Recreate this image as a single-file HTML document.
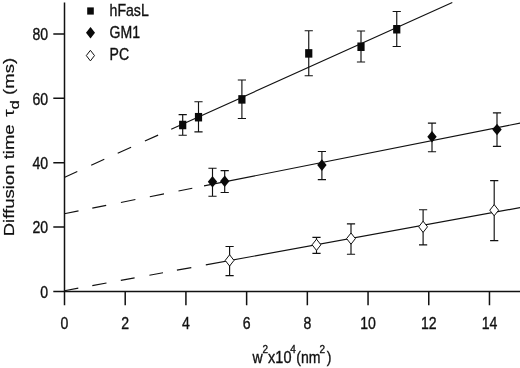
<!DOCTYPE html>
<html><head><meta charset="utf-8"><title>Diffusion time plot</title>
<style>
html,body{margin:0;padding:0;background:#fff}
svg{display:block}
text{font-family:"Liberation Sans",sans-serif;fill:#111;stroke:#111;stroke-width:0.35}
.ln{stroke:#111;stroke-width:1.15;fill:none}
.eb{stroke:#111;stroke-width:1.15;fill:none}
.ax{stroke:#111;stroke-width:1.5;fill:none}
.mk{fill:#0a0a0a;stroke:none}
.op{fill:#fff;stroke:#111;stroke-width:1}
</style></head><body>
<svg width="520" height="368" viewBox="0 0 520 368">
<rect width="520" height="368" fill="#fff"/>
<path class="ln" d="M64.2 177.40L77.3 171.50M91.2 165.24L104.3 159.34M117.7 153.30L131.1 147.27M144.9 141.05L158.1 135.11M171.2 129.21L452.3 2.60"/>
<path class="ln" d="M64.3 213.70L78.5 210.88M92.3 208.13L106.2 205.37M120.9 202.45L135.4 199.56M149.8 196.70L164.0 193.88M178.5 191.00L192.3 188.25M204.0 185.93L521.0 122.90"/>
<path class="ln" d="M64.5 290.70L78.3 288.18M92.3 285.63L106.5 283.04M120.8 280.43L134.6 277.91M149.4 275.21L163.0 272.73M176.9 270.19L191.3 267.57M205.8 264.92L521.0 207.42"/>
<path class="eb" d="M182.70 114.60V135.20M178.60 114.60H186.80M178.60 135.20H186.80M198.50 101.70V131.90M194.40 101.70H202.60M194.40 131.90H202.60M241.90 80.00V118.50M237.80 80.00H246.00M237.80 118.50H246.00M308.75 30.75V75.75M304.65 30.75H312.85M304.65 75.75H312.85M361.00 31.00V62.00M356.90 31.00H365.10M356.90 62.00H365.10M396.75 11.50V46.50M392.65 11.50H400.85M392.65 46.50H400.85M212.50 168.20V196.20M208.40 168.20H216.60M208.40 196.20H216.60M224.70 170.60V192.50M220.60 170.60H228.80M220.60 192.50H228.80M321.90 151.50V179.60M317.80 151.50H326.00M317.80 179.60H326.00M432.00 123.10V151.70M427.90 123.10H436.10M427.90 151.70H436.10M497.00 112.90V146.40M492.90 112.90H501.10M492.90 146.40H501.10M229.60 246.50V275.60M225.50 246.50H233.70M225.50 275.60H233.70M316.50 237.30V253.30M312.40 237.30H320.60M312.40 253.30H320.60M351.00 223.80V254.20M346.90 223.80H355.10M346.90 254.20H355.10M423.10 209.70V244.80M419.00 209.70H427.20M419.00 244.80H427.20M494.20 180.60V240.60M490.10 180.60H498.30M490.10 240.60H498.30"/>
<rect class="mk" x="179.10" y="120.75" width="7.2" height="8.5"/>
<rect class="mk" x="194.90" y="112.95" width="7.2" height="8.5"/>
<rect class="mk" x="238.30" y="95.15" width="7.2" height="8.5"/>
<rect class="mk" x="305.15" y="49.15" width="7.2" height="8.5"/>
<rect class="mk" x="357.40" y="42.50" width="7.2" height="8.5"/>
<rect class="mk" x="393.15" y="25.00" width="7.2" height="8.5"/>
<path class="mk" d="M212.50 176.00L217.20 181.80L212.50 187.60L207.80 181.80Z"/>
<path class="mk" d="M224.70 175.40L229.40 181.20L224.70 187.00L220.00 181.20Z"/>
<path class="mk" d="M321.90 159.30L326.60 165.10L321.90 170.90L317.20 165.10Z"/>
<path class="mk" d="M432.00 130.90L436.70 136.70L432.00 142.50L427.30 136.70Z"/>
<path class="mk" d="M497.00 123.70L501.70 129.50L497.00 135.30L492.30 129.50Z"/>
<path class="op" d="M229.60 254.80L234.00 260.40L229.60 266.00L225.20 260.40Z"/>
<path class="op" d="M316.50 239.20L320.90 244.80L316.50 250.40L312.10 244.80Z"/>
<path class="op" d="M351.00 233.00L355.40 238.60L351.00 244.20L346.60 238.60Z"/>
<path class="op" d="M423.10 221.20L427.50 226.80L423.10 232.40L418.70 226.80Z"/>
<path class="op" d="M494.20 204.60L498.60 210.20L494.20 215.80L489.80 210.20Z"/>
<path class="ax" d="M64.5 2.5V305.2M53.3 291.5H520M53.3 227.10H64.5M53.3 162.70H64.5M53.3 98.30H64.5M53.3 33.90H64.5M125.21 291.5V305.2M185.92 291.5V305.2M246.63 291.5V305.2M307.34 291.5V305.2M368.05 291.5V305.2M428.76 291.5V305.2M489.47 291.5V305.2"/>
<text transform="translate(48.20 297.70) scale(0.88 1)" text-anchor="end" font-size="16">0</text>
<text transform="translate(48.20 233.30) scale(0.88 1)" text-anchor="end" font-size="16">20</text>
<text transform="translate(48.20 168.90) scale(0.88 1)" text-anchor="end" font-size="16">40</text>
<text transform="translate(48.20 104.50) scale(0.88 1)" text-anchor="end" font-size="16">60</text>
<text transform="translate(48.20 40.10) scale(0.88 1)" text-anchor="end" font-size="16">80</text>
<text transform="translate(64.50 329.30) scale(0.88 1)" text-anchor="middle" font-size="16">0</text>
<text transform="translate(125.21 329.30) scale(0.88 1)" text-anchor="middle" font-size="16">2</text>
<text transform="translate(185.92 329.30) scale(0.88 1)" text-anchor="middle" font-size="16">4</text>
<text transform="translate(246.63 329.30) scale(0.88 1)" text-anchor="middle" font-size="16">6</text>
<text transform="translate(307.34 329.30) scale(0.88 1)" text-anchor="middle" font-size="16">8</text>
<text transform="translate(368.05 329.30) scale(0.88 1)" text-anchor="middle" font-size="16">10</text>
<text transform="translate(428.76 329.30) scale(0.88 1)" text-anchor="middle" font-size="16">12</text>
<text transform="translate(489.47 329.30) scale(0.88 1)" text-anchor="middle" font-size="16">14</text>
<rect class="mk" x="87.2" y="7.4" width="6.6" height="7.2"/>
<path class="mk" d="M90.50 27.10L95.00 32.80L90.50 38.50L86.00 32.80Z"/>
<path class="op" d="M90.40 50.30L94.50 55.60L90.40 60.90L86.30 55.60Z"/>
<text transform="translate(109.60 16.00) scale(0.88 1)" text-anchor="start" font-size="16">hFasL</text>
<text transform="translate(109.60 38.00) scale(0.88 1)" text-anchor="start" font-size="16">GM1</text>
<text transform="translate(109.60 60.10) scale(0.88 1)" text-anchor="start" font-size="16">PC</text>
<text transform="translate(252.60 362.60) scale(0.88 1)" font-size="16">w</text>
<text transform="translate(262.40 353.00) scale(0.95 1)" font-size="10.5">2</text>
<text transform="translate(268.10 362.60) scale(0.905 1)" font-size="16">x10</text>
<text transform="translate(290.30 353.00) scale(0.95 1)" font-size="10.5">4</text>
<text transform="translate(296.20 362.60) scale(0.88 1)" font-size="16">(nm</text>
<text transform="translate(319.50 353.00) scale(0.95 1)" font-size="10.5">2</text>
<text transform="translate(326.80 362.60) scale(0.88 1)" font-size="16">)</text>
<text transform="translate(14.2 236.3) rotate(-90) scale(1.236 1)" font-size="15" style="stroke-width:0.2">Diffusion time <tspan dx="2">τ</tspan><tspan font-size="13.5" dy="5.2">d</tspan><tspan dy="-5.2"> (ms)</tspan></text>
</svg>
</body></html>
